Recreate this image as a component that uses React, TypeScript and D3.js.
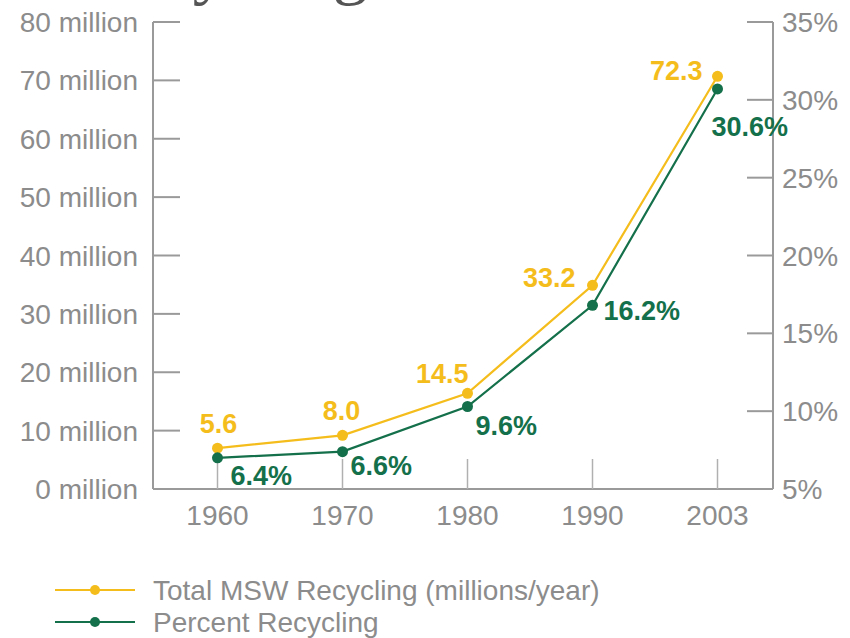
import React from "react";
import * as d3 from "d3";

const years = ["1960", "1970", "1980", "1990", "2003"];
// plotted values as drawn in the reference
const totalRecycling = [7.0, 9.2, 16.4, 34.9, 70.7]; // millions of tons/year
const percentRecycling = [7.0, 7.4, 10.3, 16.8, 30.7]; // percent
const totalLabels = ["5.6", "8.0", "14.5", "33.2", "72.3"];
const percentLabels = ["6.4%", "6.6%", "9.6%", "16.2%", "30.6%"];
const leftTicks = [0, 10, 20, 30, 40, 50, 60, 70, 80];
const rightTicks = [5, 10, 15, 20, 25, 30, 35];
const legendNames = ["Total MSW Recycling (millions/year)", "Percent Recycling"];

const W = 850;
const H = 638;
const YELLOW = "#F5BD1C";
const GREEN = "#14704A";
const GRAY_TEXT = "#8c8c8c";
const GRAY_LINE = "#9a9a9a";
const FONT = "'Liberation Sans', Arial, Helvetica, sans-serif";

// label placement offsets (dx, dy, anchor)
const totalOffsets: [number, number, string][] = [
  [1, -15, "middle"],
  [-1, -15, "middle"],
  [1, -10, "end"],
  [-17, 2, "end"],
  [-15, 4, "end"],
];
const percentOffsets: [number, number, string][] = [
  [13, 27, "start"],
  [8, 23, "start"],
  [8, 29, "start"],
  [11, 15, "start"],
  [-6, 47, "start"],
];

export default function App() {
  const left = 153;
  const right = 773;
  const top = 22;
  const bottom = 489;

  const x = d3.scalePoint<string>().domain(years).range([155, 780]).padding(0.5);
  const yL = d3.scaleLinear().domain([0, 80]).range([bottom, top]);
  const yR = d3.scaleLinear().domain([5, 35]).range([bottom, top]);

  const lineL = d3
    .line<number>()
    .x((_, i) => x(years[i]) as number)
    .y((d) => yL(d));
  const lineR = d3
    .line<number>()
    .x((_, i) => x(years[i]) as number)
    .y((d) => yR(d));

  return (
    <svg
      width={W}
      height={H}
      viewBox={`0 0 ${W} ${H}`}
      style={{ position: "absolute", left: 0, top: 0, background: "#fff", display: "block" }}
    >
      <rect x={0} y={0} width={W} height={H} fill="#fff" />
      {/* clipped title remnant */}
      <text x={84} y={-9} fontFamily="'Liberation Serif', 'Times New Roman', serif" fontSize={70} fill="#555">
        Recycling
      </text>

      {/* axes */}
      <g stroke={GRAY_LINE} strokeWidth={2} fill="none">
        <line x1={left} x2={left} y1={top} y2={bottom} />
        <line x1={right} x2={right} y1={top} y2={bottom} />
        <line x1={left} x2={right} y1={bottom} y2={bottom} />
        {leftTicks.map((t) => (
          <line key={"lt" + t} x1={left} x2={left + 27} y1={yL(t)} y2={yL(t)} />
        ))}
        {rightTicks.map((t) => (
          <line key={"rt" + t} x1={right - 26} x2={right} y1={yR(t)} y2={yR(t)} />
        ))}
      </g>
      <g stroke="#b0b0b0" strokeWidth={1.5}>
        {years.map((yr) => (
          <line key={"xt" + yr} x1={x(yr)} x2={x(yr)} y1={bottom} y2={bottom - 30} />
        ))}
      </g>

      {/* tick labels */}
      <g fontFamily={FONT} fontSize={28} fill={GRAY_TEXT}>
        {leftTicks.map((t) => (
          <text key={"ll" + t} x={138} y={yL(t)} dy="0.36em" textAnchor="end">
            {`${t} million`}
          </text>
        ))}
        {rightTicks.map((t) => (
          <text key={"rl" + t} x={782} y={yR(t)} dy="0.36em" textAnchor="start">
            {`${t}%`}
          </text>
        ))}
        {years.map((yr) => (
          <text key={"xl" + yr} x={x(yr)} y={525} textAnchor="middle">
            {yr}
          </text>
        ))}
      </g>

      {/* series */}
      <path d={lineR(percentRecycling) || ""} fill="none" stroke={GREEN} strokeWidth={2.2} />
      <path d={lineL(totalRecycling) || ""} fill="none" stroke={YELLOW} strokeWidth={2.2} />
      {totalRecycling.map((v, i) => (
        <circle key={"yc" + i} cx={x(years[i])} cy={yL(v)} r={5.5} fill={YELLOW} />
      ))}
      {percentRecycling.map((v, i) => (
        <circle key={"gc" + i} cx={x(years[i])} cy={yR(v)} r={5.5} fill={GREEN} />
      ))}

      {/* data labels */}
      <g fontFamily={FONT} fontSize={27} fontWeight="bold">
        {totalRecycling.map((v, i) => (
          <text
            key={"ylab" + i}
            x={(x(years[i]) as number) + totalOffsets[i][0]}
            y={yL(v) + totalOffsets[i][1]}
            textAnchor={totalOffsets[i][2] as any}
            fill={YELLOW}
          >
            {totalLabels[i]}
          </text>
        ))}
        {percentRecycling.map((v, i) => (
          <text
            key={"glab" + i}
            x={(x(years[i]) as number) + percentOffsets[i][0]}
            y={yR(v) + percentOffsets[i][1]}
            textAnchor={percentOffsets[i][2] as any}
            fill={GREEN}
          >
            {percentLabels[i]}
          </text>
        ))}
      </g>

      {/* legend */}
      {legendNames.map((name, i) => {
        const ly = 590 + i * 32;
        const c = i === 0 ? YELLOW : GREEN;
        return (
          <g key={"leg" + i}>
            <line x1={55} x2={135} y1={ly} y2={ly} stroke={c} strokeWidth={2.2} />
            <circle cx={95} cy={ly} r={5} fill={c} />
            <text x={153} y={ly} dy="0.36em" fontFamily={FONT} fontSize={28} fill={GRAY_TEXT}>
              {name}
            </text>
          </g>
        );
      })}
    </svg>
  );
}
